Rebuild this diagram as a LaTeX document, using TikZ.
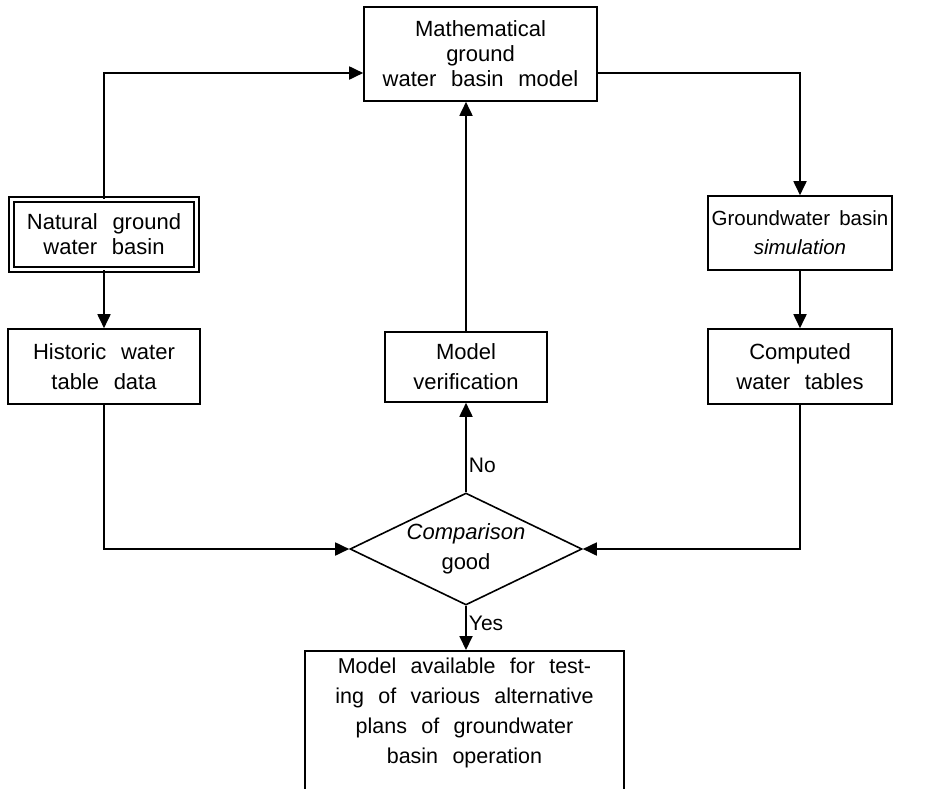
\documentclass[tikz,border=0pt]{standalone}
\usepackage{fontspec}
\setmainfont{Liberation Sans}[WordSpace={2.4}]
\usetikzlibrary{arrows.meta,shapes.geometric}
\begin{document}
\begin{tikzpicture}[x=1pt,y=-1pt,
  box/.style={draw,line width=1.6pt,align=center,inner sep=0pt,font=\fontsize{22}{30}\selectfont},
  dbox/.style={box,double,double distance=3.5pt,line width=1.4pt},
  conn/.style={line width=1.8pt,-{Triangle[length=14pt,width=13pt]}},
  lbl/.style={font=\fontsize{21}{24}\selectfont,inner sep=2pt}]
\useasboundingbox (0,0) rectangle (943,788);
\clip (0,0) rectangle (943,788);
\node[box,minimum width=233pt,minimum height=94pt,font=\fontsize{22}{25}\selectfont] (top) at (480.5,54) {Mathematical\\ground\\water basin model};
\node[dbox,minimum width=185pt,minimum height=70pt,font=\fontsize{22}{25}\selectfont] (nat) at (104,234.5) {Natural ground\\water basin};
\node[box,minimum width=192pt,minimum height=75pt] (hist) at (104,366.5) {Historic water\\table data};
\node[box,minimum width=162pt,minimum height=70pt] (verif) at (466,367) {Model\\verification};
\node[box,minimum width=184pt,minimum height=74pt,font=\fontsize{20.5}{29}\selectfont] (gw) at (800,233) {Groundwater\hspace{0.45em}basin\\\textit{simulation}};
\node[box,minimum width=184pt,minimum height=75pt] (comp) at (800,366.5) {Computed\\water tables};
\node[box,shape=diamond,minimum width=232pt,minimum height=112pt,aspect=2.07] (dia) at (466,549) {\textit{Comparison}\\good};
\node[box,anchor=north,minimum width=319pt,minimum height=160pt,font=\fontsize{21.5}{30}\selectfont] (bot) at (464.5,650) {Model available for test-\\ing of various alternative\\plans of groundwater\\basin operation\\[10pt]};
\coordinate (tl) at (nat.north |- 0,73);
\coordinate (tr) at (800,73);
\draw[conn] (nat.north) -- (tl) -- (tl -| top.west);
\draw[conn] (tr -| top.east) -- (tr) -- (gw.north);
\draw[conn] (nat.south) -- (hist.north);
\draw[conn] (gw.south) -- (comp.north);
\draw[conn] (hist.south) |- (dia.west);
\draw[conn] (comp.south) |- (dia.east);
\draw[conn] (dia.north) -- node[lbl,right,pos=0.3] (no) {No} (verif.south);
\draw[conn] (verif.north) -- (verif.north |- top.south);
\draw[conn] (dia.south) -- node[lbl,right,pos=0.4] (yes) {Yes} (dia.south |- bot.north);
\end{tikzpicture}
\end{document}
